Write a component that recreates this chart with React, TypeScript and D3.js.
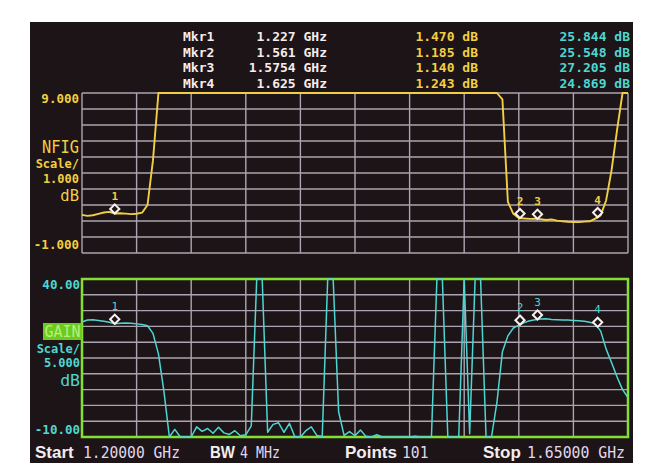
import React from 'react';
import * as d3 from 'd3';

// Sweep settings
const START_GHZ = 1.2;
const STOP_GHZ = 1.65;
const POINTS = 101;
const BW_LABEL = '4 MHz';

// Noise figure trace (dB), 101 points; values above 9 dB are off-scale
const nfValues = [
  1.38, 1.32, 1.36, 1.45, 1.53, 1.57, 1.47, 1.48, 1.46, 1.43,
  1.45, 1.52, 2.0, 4.8, 20, 20, 20, 20, 20, 20,
  20, 20, 20, 20, 20, 20, 20, 20, 20, 20,
  20, 20, 20, 20, 20, 20, 20, 20, 20, 20,
  20, 20, 20, 20, 20, 20, 20, 20, 20, 20,
  20, 20, 20, 20, 20, 20, 20, 20, 20, 20,
  20, 20, 20, 20, 20, 20, 20, 20, 20, 20,
  20, 20, 20, 20, 20, 20, 20, 8.6, 2.2, 1.45,
  1.19, 1.16, 1.13, 1.14, 1.12, 1.06, 1.10, 1.02, 0.98, 0.95,
  0.94, 0.93, 0.96, 0.98, 1.15, 1.35, 2.3, 4.2, 6.7, 9.4,
  20,
];

// Gain trace (dB), 101 points
const gainValues = [
  26.4, 27.0, 27.1, 26.9, 26.6, 26.3, 25.85, 26.0, 26.1, 26.0,
  25.8, 25.6, 25.2, 22.8, 16.3, 4.5, -12, -7.6, -11, -10.8,
  -11, -6.8, -8.2, -7.3, -8.8, -6.9, -8.7, -9.2, -8.0, -9.6,
  -9.3, -6.5, 50, 50, -8.5, -6.0, -5.5, -8.5, -5.7, -10.5,
  -10.5, -8.0, -6.8, -9.5, -9.8, 50, 50, -2, -9.5, -8.3,
  -9.6, -7.8, -9.8, -10.5, -9.3, -10.5, -11, -10.8, -11, -10.5,
  -11, -9.8, -11, -10.6, -10.5, 50, 50, -10.5, -10.8, -10.3,
  50, -9, 50, 50, -12, -12, 1, 17, 22, 24.5,
  25.4, 26.2, 26.8, 27.1, 27.35, 27.4, 27.2, 27.1, 27.0, 27.0,
  26.9, 26.8, 26.6, 26.3, 25.8, 23.5, 17.8, 13.5, 9.0, 5.0,
  2.5,
];

// Markers
const markerNames = ['Mkr1', 'Mkr2', 'Mkr3', 'Mkr4'];
const markerIds = ['1', '2', '3', '4'];
const markerFreqs = [1.227, 1.561, 1.5754, 1.625];
const markerFreqLabels = ['1.227 GHz', '1.561 GHz', '1.5754 GHz', '1.625 GHz'];
const markerNF = [1.47, 1.185, 1.14, 1.243];
const markerNFLabels = ['1.470 dB', '1.185 dB', '1.140 dB', '1.243 dB'];
const markerGain = [25.844, 25.548, 27.205, 24.869];
const markerGainLabels = ['25.844 dB', '25.548 dB', '27.205 dB', '24.869 dB'];

// Axis settings
const nfTop = 9;
const nfBottom = -1;
const nfTopLabel = '9.000';
const nfBottomLabel = '-1.000';
const nfScaleLabel = '1.000';
const gainTop = 40;
const gainBottom = -10;
const gainTopLabel = '40.00';
const gainBottomLabel = '-10.00';
const gainScaleLabel = '5.000';
const divisions = 10;

const W = 659;
const H = 463;
const PL = 82;
const PR = 628;
const T1 = 93;
const B1 = 253;
const T2 = 279;
const B2 = 437;

const C_YEL = '#f2cf42';
const C_CYAN = '#4fd6d2';
const C_WHITE = '#f4ecee';
const C_GRID = '#aba5b1';
const C_GREEN = '#86dd34';
const MONO = '"DejaVu Sans Mono", monospace';
const SANS = '"Liberation Sans", Arial, sans-serif';

export default function App() {
  const step = (STOP_GHZ - START_GHZ) / (POINTS - 1);
  const freqs = d3.range(POINTS).map((i) => START_GHZ + i * step);
  const x = d3.scaleLinear().domain([START_GHZ, STOP_GHZ]).range([PL, PR]);
  const yNF = d3.scaleLinear().domain([nfBottom, nfTop]).range([B1, T1]);
  const yG = d3.scaleLinear().domain([gainBottom, gainTop]).range([B2, T2]);
  const clampNF = (v: number) => Math.max(nfBottom, Math.min(nfTop, v));
  const clampG = (v: number) => Math.max(gainBottom, Math.min(gainTop, v));

  const nfLine = d3
    .line<number>()
    .x((_, i) => x(freqs[i]))
    .y((d) => yNF(clampNF(d)))(nfValues) as string;
  const gLine = d3
    .line<number>()
    .x((_, i) => x(freqs[i]))
    .y((d) => yG(clampG(d)))(gainValues) as string;

  const xDivs = d3.range(divisions + 1).map((k) => START_GHZ + (k * (STOP_GHZ - START_GHZ)) / divisions);
  const nfDivs = d3.range(divisions + 1).map((k) => nfBottom + (k * (nfTop - nfBottom)) / divisions);
  const gDivs = d3.range(divisions + 1).map((k) => gainBottom + (k * (gainTop - gainBottom)) / divisions);

  const diamond = (cx: number, cy: number, r: number) =>
    `M${cx},${cy - r}L${cx + r},${cy}L${cx},${cy + r}L${cx - r},${cy}Z`;

  const rowY = [41, 56.5, 72, 87.5];

  return (
    <svg
      width={W}
      height={H}
      style={{ position: 'absolute', left: 0, top: 0, display: 'block', background: '#ffffff' }}
    >
      <rect x={0} y={0} width={W} height={H} fill="#ffffff" />
      <rect x={30} y={22} width={603} height={441} fill="#1c1416" />

      {/* Header marker table */}
      {markerNames.map((m, i) => (
        <g key={m} fontFamily={MONO} fontSize={13} fontWeight="bold">
          <text x={183} y={rowY[i]} fill={C_WHITE}>{m}</text>
          <text x={327} y={rowY[i]} fill={C_WHITE} textAnchor="end">{markerFreqLabels[i]}</text>
          <text x={478} y={rowY[i]} fill={C_YEL} textAnchor="end">{markerNFLabels[i]}</text>
          <text x={630} y={rowY[i]} fill={C_CYAN} textAnchor="end">{markerGainLabels[i]}</text>
        </g>
      ))}

      {/* Top plot grid */}
      <g stroke={C_GRID} strokeWidth={1.4}>
        {xDivs.map((f, k) => (
          <line key={'v1' + k} x1={x(f)} x2={x(f)} y1={T1} y2={B1} />
        ))}
        {nfDivs.map((v, k) => (
          <line key={'h1' + k} x1={PL} x2={PR} y1={yNF(v)} y2={yNF(v)} />
        ))}
      </g>

      {/* Bottom plot grid */}
      <g stroke={C_GRID} strokeWidth={1.4}>
        {xDivs.map((f, k) => (
          <line key={'v2' + k} x1={x(f)} x2={x(f)} y1={T2} y2={B2} />
        ))}
        {gDivs.map((v, k) => (
          <line key={'h2' + k} x1={PL} x2={PR} y1={yG(v)} y2={yG(v)} />
        ))}
      </g>
      <rect x={PL} y={T2} width={PR - PL} height={B2 - T2} fill="none" stroke={C_GREEN} strokeWidth={2.5} />

      {/* Traces */}
      <path d={nfLine} fill="none" stroke={C_YEL} strokeWidth={1.9} strokeLinejoin="round" />
      <path d={gLine} fill="none" stroke={C_CYAN} strokeWidth={1.5} strokeLinejoin="round" />

      {/* Markers */}
      {markerFreqs.map((f, i) => {
        const mx = x(f);
        const y1 = yNF(markerNF[i]) - 4.5;
        const y2 = yG(markerGain[i]) - 4.5;
        return (
          <g key={'mk' + i}>
            <path d={diamond(mx, y1, 4.6)} fill="#1c1416" stroke="#f8f2ee" strokeWidth={2} />
            <text x={mx} y={y1 - 9} fill={C_YEL} fontFamily={MONO} fontSize={11} fontWeight="bold" textAnchor="middle">
              {markerIds[i]}
            </text>
            <path d={diamond(mx, y2, 4.6)} fill="#1c1416" stroke="#f8f2ee" strokeWidth={2} />
            <text x={mx} y={y2 - 9} fill={C_CYAN} fontFamily={MONO} fontSize={11} textAnchor="middle">
              {markerIds[i]}
            </text>
          </g>
        );
      })}

      {/* Top plot left labels */}
      <g fill={C_YEL} fontFamily={MONO} textAnchor="end" fontWeight="bold">
        <text x={79} y={103} fontSize={12.5}>{nfTopLabel}</text>
        <text x={79} y={152.5} fontSize={18} fontWeight="normal" textLength={37} lengthAdjust="spacingAndGlyphs">NFIG</text>
        <text x={79} y={168} fontSize={12}>Scale/</text>
        <text x={79} y={183} fontSize={12}>{nfScaleLabel}</text>
        <text x={79} y={200.5} fontSize={15.5} fontWeight="normal">dB</text>
        <text x={79} y={248.5} fontSize={12.5}>{nfBottomLabel}</text>
      </g>

      {/* Bottom plot left labels */}
      <rect x={43} y={323} width={39} height={17} fill="#6ccb1e" />
      <g fill={C_CYAN} fontFamily={MONO} textAnchor="end" fontWeight="bold">
        <text x={80} y={288.5} fontSize={12.5}>{gainTopLabel}</text>
        <text x={62.5} y={337} fontSize={15} fontWeight="normal" fill="#b6ef7e" textAnchor="middle" textLength={36} lengthAdjust="spacingAndGlyphs">GAIN</text>
        <text x={80} y={352.5} fontSize={12}>Scale/</text>
        <text x={80} y={366.5} fontSize={12}>{gainScaleLabel}</text>
        <text x={80} y={385.5} fontSize={16.5} fontWeight="normal">dB</text>
        <text x={80} y={433.5} fontSize={12.5}>{gainBottomLabel}</text>
      </g>

      {/* Status line */}
      <g>
        <text x={35} y={458} fill={C_WHITE} fontFamily={SANS} fontWeight="bold" fontSize={17}>Start</text>
        <text x={83} y={458} fill="#e2d8ee" fontFamily={MONO} fontSize={16.5} textLength={97} lengthAdjust="spacingAndGlyphs">{`${START_GHZ.toFixed(5)} GHz`}</text>
        <text x={210} y={458} fill={C_WHITE} fontFamily={SANS} fontWeight="bold" fontSize={17} textLength={25} lengthAdjust="spacingAndGlyphs">BW</text>
        <text x={240} y={458} fill="#e2d8ee" fontFamily={MONO} fontSize={16.5} textLength={40} lengthAdjust="spacingAndGlyphs">{BW_LABEL}</text>
        <text x={345} y={458} fill={C_WHITE} fontFamily={SANS} fontWeight="bold" fontSize={17}>Points</text>
        <text x={402} y={458} fill="#e2d8ee" fontFamily={MONO} fontSize={16.5} textLength={26.5} lengthAdjust="spacingAndGlyphs">{String(POINTS)}</text>
        <text x={483} y={458} fill={C_WHITE} fontFamily={SANS} fontWeight="bold" fontSize={17}>Stop</text>
        <text x={527} y={458} fill="#e2d8ee" fontFamily={MONO} fontSize={16.5} textLength={98} lengthAdjust="spacingAndGlyphs">{`${STOP_GHZ.toFixed(5)} GHz`}</text>
      </g>
    </svg>
  );
}
